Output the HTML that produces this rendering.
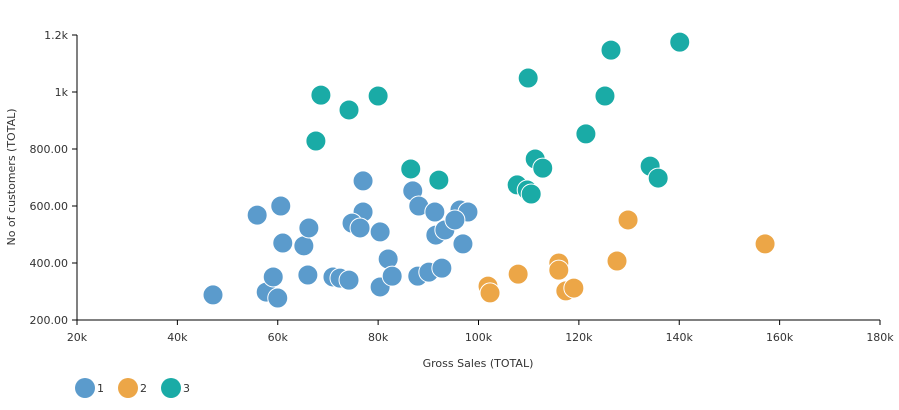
<!DOCTYPE html>
<html><head><meta charset="utf-8"><style>
body{margin:0;background:#fff;font-family:"Liberation Sans","DejaVu Sans",sans-serif}
svg text{font-family:"DejaVu Sans","Liberation Sans",sans-serif;font-size:11px;fill:#333}
</style></head><body>
<svg id="c" width="899" height="405"></svg>
<script>
const xTicks=[20,40,60,80,100,120,140,160,180];
const xTickLabels=["20k","40k","60k","80k","100k","120k","140k","160k","180k"];
const yTicks=[200,400,600,800,1000,1200];
const yTickLabels=["200.00","400.00","600.00","800.00","1k","1.2k"];
const s1x=[47.1,55.9,60.6,61.0,57.7,59.1,60.0,65.2,66.2,66.0,71.0,72.4,74.2,77.0,77.0,74.8,76.4,80.4,80.4,82.0,82.8,86.9,88.1,91.3,91.5,93.3,96.3,97.9,96.9,87.9,90.1,92.7,95.3];
const s1y=[288,568,600,470,298,351,277,460,523,358,351,347,340,688,579,540,523,509,316,414,354,653,600,579,498,516,586,579,467,354,368,382,551];
const s2x=[101.9,102.3,107.9,116.0,116.0,117.4,119.0,127.6,129.8,157.1];
const s2y=[319,295,361,400,375,302,312,407,551,467];
const s3x=[67.6,68.6,74.2,80.0,86.5,92.1,107.7,109.7,110.5,109.9,111.3,112.8,121.4,125.2,126.4,134.2,135.8,140.1];
const s3y=[828,989,937,986,730,691,674,656,642,1049,765,733,853,986,1147,740,698,1175];
const seriesNames=["1","2","3"];
const colors=["#5b9bcc","#eca647","#1aaba6"];
const NS="http://www.w3.org/2000/svg",svg=document.getElementById('c');
const X0=77,X1=880,Y0=320,Y1=35;
const sx=v=>X0+(v-20)/160*(X1-X0), sy=v=>Y0-(v-200)/1000*(Y0-Y1);
function mk(t,a,p){const e=document.createElementNS(NS,t);for(const k in a)e.setAttribute(k,a[k]);(p||svg).appendChild(e);return e;}
let ax=mk('line',{x1:X0,y1:Y0,x2:X1,y2:Y0,stroke:'#000'});


let ay=mk('line',{x1:X0,y1:Y0,x2:X0,y2:Y1,stroke:'#000'});


xTicks.forEach((v,i)=>{mk('line',{x1:sx(v),x2:sx(v),y1:Y0,y2:Y0+5,stroke:'#000'});
 let t=mk('text',{x:sx(v),y:Y0+21,'text-anchor':'middle'});t.textContent=xTickLabels[i];
 
 });
yTicks.forEach((v,i)=>{mk('line',{x1:X0-5,x2:X0,y1:sy(v),y2:sy(v),stroke:'#000'});
 let t=mk('text',{x:X0-9,y:sy(v)+4,'text-anchor':'end'});t.textContent=yTickLabels[i];
 
 });
let xt=mk('text',{x:478,y:367,'text-anchor':'middle'});xt.textContent='Gross Sales (TOTAL)';


let yt=mk('text',{x:15,y:177,'text-anchor':'middle',transform:'rotate(-90 15 177)'});yt.textContent='No of customers (TOTAL)';


[[s1x,s1y],[s2x,s2y],[s3x,s3y]].forEach((s,k)=>{s[0].forEach((v,i)=>{
 let c=mk('circle',{cx:sx(v),cy:sy(s[1][i]),r:10,fill:colors[k],stroke:'#fff','stroke-width':1});
 
 });});
seriesNames.forEach((n,k)=>{const g=mk('g',{});
 
 
 mk('circle',{cx:85+k*43,cy:388,r:10,fill:colors[k]},g);
 let t=mk('text',{x:97+k*43,y:392},g);t.textContent=n;});
</script>
</body></html>
